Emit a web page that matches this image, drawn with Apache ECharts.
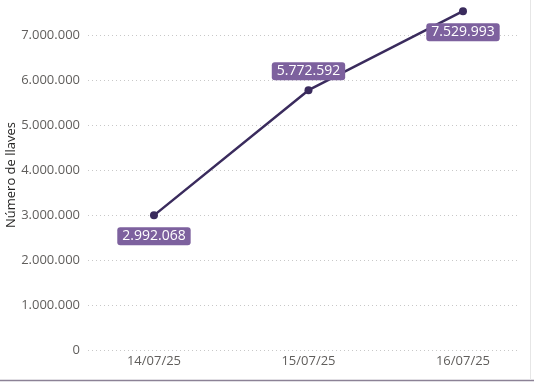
<!DOCTYPE html>
<html>
<head>
<meta charset="utf-8">
<script src="https://cdn.jsdelivr.net/npm/echarts@6/dist/echarts.min.js"></script>
<style>
html,body{margin:0;padding:0;background:#fff;}
#c{width:534px;height:384px;}
</style>
</head>
<body>
<div id="c"></div>
<script>
var categories = ['14/07/25', '15/07/25', '16/07/25'];
var values = [2992068, 5772592, 7529993];
var labelPositions = ['bottom', 'top', 'bottom'];
var yTicks = [0, 1000000, 2000000, 3000000, 4000000, 5000000, 6000000, 7000000];

function fmt(v) {
  return String(Math.round(v)).replace(/\B(?=(\d{3})+(?!\d))/g, '.');
}

var chart = echarts.init(document.getElementById('c'), null, {renderer: 'canvas'});
var FONT = '"Open Sans", "Noto Sans", sans-serif';

chart.setOption({
  animation: false,
  backgroundColor: '#fff',
  grid: {left: 88, right: 14, top: 0, bottom: 34, containLabel: false, outerBoundsMode: 'none'},
  xAxis: {
    type: 'value',
    min: -0.427,
    max: 2.369,
    axisLine: {show: false},
    axisTick: {show: false},
    splitLine: {show: false},
    axisLabel: {
      customValues: [0, 1, 2],
      formatter: function (v) { return categories[Math.round(v)]; },
      color: '#605e5c',
      fontSize: 13,
      fontFamily: FONT,
      margin: 5
    }
  },
  yAxis: {
    type: 'value',
    min: 0,
    max: 7777778,
    name: 'Número de llaves',
    nameLocation: 'middle',
    nameGap: 70,
    nameMoveOverlap: false,
    nameTextStyle: {color: '#252423', fontSize: 13, fontFamily: FONT},
    axisLine: {show: false},
    axisTick: {show: false, customValues: yTicks},
    axisLabel: {
      customValues: yTicks,
      formatter: function (v) { return fmt(v); },
      color: '#605e5c',
      fontSize: 13,
      fontFamily: FONT,
      margin: 8
    },
    splitLine: {show: true, lineStyle: {color: '#c8c8c8', type: [1, 3], width: 1}}
  },
  graphic: [
    {type: 'line', shape: {x1: 0, y1: 380.5, x2: 534, y2: 380.5}, style: {stroke: '#8c8296', lineWidth: 1.5}, silent: true},
    {type: 'line', shape: {x1: 530.5, y1: 0, x2: 530.5, y2: 380}, style: {stroke: '#e6e6e6', lineWidth: 1}, silent: true}
  ],
  series: [{
    type: 'line',
    clip: false,
    data: values.map(function (v, i) {
      var pos = labelPositions[i];
      return {value: [i, v], label: {position: pos, distance: pos === 'top' ? 6 : 8}};
    }),
    symbol: 'circle',
    symbolSize: 8,
    lineStyle: {color: '#3a2b5d', width: 2.5},
    itemStyle: {color: '#3a2b5d'},
    label: {
      show: true,
      formatter: function (p) { return fmt(p.value[1]); },
      color: '#ffffff',
      fontSize: 14,
      fontFamily: FONT,
      backgroundColor: '#7d619e',
      borderRadius: 3,
      padding: [2, 5, 2, 5]
    }
  }]
});
</script>
</body>
</html>
